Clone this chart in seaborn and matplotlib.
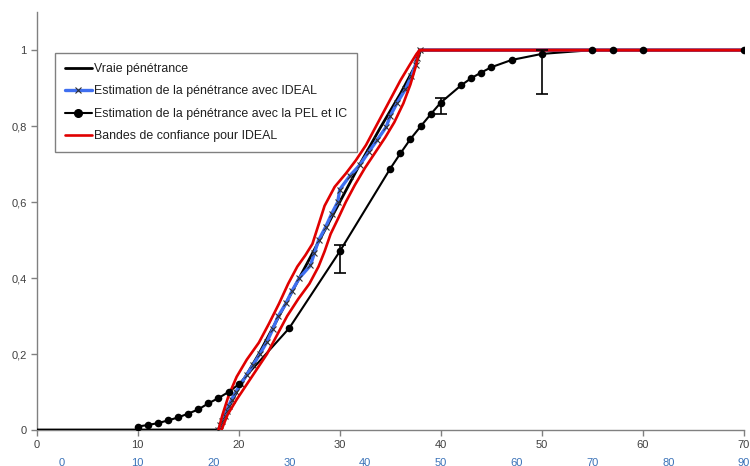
import matplotlib
matplotlib.use("Agg")
import matplotlib.pyplot as plt
from matplotlib.lines import Line2D
from matplotlib.ticker import FuncFormatter
import pandas as pd
import seaborn as sns

# True penetrance curve
true_age = [0, 18, 19, 20, 22, 24, 26, 28, 30, 32, 34, 36, 37.5, 38, 70]
true_pen = [0, 0, 0.06, 0.11, 0.2, 0.3, 0.4, 0.5, 0.6, 0.7, 0.795, 0.885, 0.96, 1, 1]

# IDEAL estimate
ideal_age = [18.0, 18.2, 18.4, 18.6, 18.8, 19.0, 19.3, 19.7, 20.2, 20.8, 21.4,
             22.1, 22.8, 23.4, 23.9, 24.7, 25.3, 26.0, 27.1, 27.5, 27.9, 28.6,
             29.2, 29.8, 30.0, 31.0, 32.0, 32.9, 33.7, 34.6, 35.0, 35.7, 36.5,
             37.1, 37.5, 37.6, 37.9, 70]
ideal_pen = [0.0, 0.012, 0.024, 0.036, 0.05, 0.063, 0.08, 0.1, 0.12, 0.145, 0.17,
             0.2, 0.232, 0.267, 0.299, 0.334, 0.367, 0.4, 0.433, 0.466, 0.499, 0.534,
             0.569, 0.6, 0.633, 0.669, 0.698, 0.733, 0.763, 0.798, 0.827, 0.862, 0.897,
             0.932, 0.962, 0.98, 1.0, 1.0]

# Confidence bands for IDEAL
upper_age = [18.0, 18.4, 19.0, 19.8, 20.8, 22.0, 23.0, 24.0, 24.9, 25.8, 26.6, 27.3,
             27.9, 28.5, 29.5, 30.6, 31.6, 32.6, 33.4, 34.4, 35.2, 36.0, 36.9, 37.6,
             37.9, 70]
upper_pen = [0.0, 0.04, 0.09, 0.14, 0.185, 0.23, 0.28, 0.333, 0.385, 0.43, 0.46, 0.49,
             0.54, 0.59, 0.64, 0.675, 0.71, 0.75, 0.79, 0.84, 0.88, 0.92, 0.96, 0.99,
             1.0, 1.0]
lower_age = [18.3, 18.9, 19.8, 20.8, 21.8, 22.8, 23.8, 24.8, 25.9, 27.0, 27.9, 28.5,
             29.1, 29.9, 30.6, 31.5, 32.5, 33.5, 34.5, 35.4, 36.3, 37.0, 37.5, 37.9, 70]
lower_pen = [0.0, 0.04, 0.08, 0.12, 0.16, 0.2, 0.25, 0.3, 0.345, 0.385, 0.43, 0.47,
             0.516, 0.56, 0.6, 0.645, 0.69, 0.73, 0.77, 0.81, 0.86, 0.91, 0.955, 1.0, 1.0]

# PEL estimate with confidence intervals
pel_age = [10, 11, 12, 13, 14, 15, 16, 17, 18, 19, 20, 25, 30, 35, 36, 37, 38, 39, 40,
           42, 43, 44, 45, 47, 50, 55, 57, 60, 70]
pel_pen = [0.009, 0.013, 0.018, 0.025, 0.033, 0.043, 0.054, 0.07, 0.084, 0.10, 0.12,
           0.268, 0.47, 0.688, 0.728, 0.766, 0.799, 0.831, 0.862, 0.907, 0.926, 0.941,
           0.955, 0.974, 0.99, 1.0, 1.0, 1.0, 1.0]
ci_age = [30, 40, 50]
ci_mid = [0.47, 0.862, 0.99]
ci_low = [0.414, 0.833, 0.884]
ci_high = [0.488, 0.875, 1.0]

legend_labels = ["Vraie pénétrance",
                 "Estimation de la pénétrance avec IDEAL",
                 "Estimation de la pénétrance avec la PEL et IC",
                 "Bandes de confiance pour IDEAL"]

sns.set_theme(style="white")
plt.rcParams["font.family"] = ["Liberation Sans", "DejaVu Sans"]
plt.rcParams["font.size"] = 8

RED = "#e00000"
BLUE = "#3f6ff0"
GREY = "#808080"
TXT = "#404040"

fig = plt.figure(figsize=(7.5, 4.66), dpi=100)
ax = fig.add_axes([0.0487, 0.0773, 0.9433, 0.8967])

true_df = pd.DataFrame({"age": true_age, "pen": true_pen})
ideal_df = pd.DataFrame({"age": ideal_age, "pen": ideal_pen})
up_df = pd.DataFrame({"age": upper_age, "pen": upper_pen})
lo_df = pd.DataFrame({"age": lower_age, "pen": lower_pen})
pel_df = pd.DataFrame({"age": pel_age, "pen": pel_pen})

# PEL line underneath, dots drawn on top of the red bands later
sns.lineplot(data=pel_df, x="age", y="pen", ax=ax, color="black", lw=1.5,
             estimator=None, sort=False, zorder=2)
sns.lineplot(data=true_df, x="age", y="pen", ax=ax, color="black", lw=2.0,
             estimator=None, sort=False, zorder=3)
sns.lineplot(data=ideal_df, x="age", y="pen", ax=ax, color=BLUE, lw=2.4,
             estimator=None, sort=False, zorder=3)
ax.plot(ideal_df["age"].iloc[:-1], ideal_df["pen"].iloc[:-1], ls="none",
        marker="x", ms=4, mew=0.8, color="#303030", zorder=4)
sns.lineplot(data=up_df, x="age", y="pen", ax=ax, color=RED, lw=1.9,
             estimator=None, sort=False, zorder=5)
sns.lineplot(data=lo_df, x="age", y="pen", ax=ax, color=RED, lw=1.9,
             estimator=None, sort=False, zorder=5)
sns.scatterplot(data=pel_df, x="age", y="pen", ax=ax, color="black", s=30,
                edgecolor="black", linewidth=0, zorder=6)
ax.errorbar(ci_age, ci_mid,
            yerr=[[m - l for m, l in zip(ci_mid, ci_low)],
                  [h - m for m, h in zip(ci_mid, ci_high)]],
            fmt="none", ecolor="black", elinewidth=1.2, capsize=4, capthick=1.2,
            zorder=6)

ax.set_xlim(0, 70)
ax.set_ylim(0, 1.1)
ax.set_xlabel("")
ax.set_ylabel("")
ax.set_xticks(range(0, 71, 10))
ax.set_yticks([0, 0.2, 0.4, 0.6, 0.8, 1.0])
ax.yaxis.set_major_formatter(FuncFormatter(
    lambda v, p: "0" if v == 0 else ("1" if v == 1 else f"{v:.1f}".replace(".", ","))))
for side in ("top", "right"):
    ax.spines[side].set_visible(False)
for side in ("left", "bottom"):
    ax.spines[side].set_color(GREY)
    ax.spines[side].set_linewidth(1)
ax.tick_params(axis="both", which="major", direction="out", length=4, width=1,
               color=GREY, labelcolor=TXT, labelsize=8, pad=3, left=True, bottom=True)

# Secondary age scale below the main one
s0 = 2.52
fwd = lambda m: (m - s0) * 90.0 / (70 - s0)
inv = lambda s: s * (70 - s0) / 90.0 + s0
sec = ax.secondary_xaxis(-0.036, functions=(fwd, inv))
sec.set_xticks(range(0, 91, 10))
sec.spines["bottom"].set_visible(False)
sec.tick_params(length=0, labelcolor="#3a72b8", labelsize=8, pad=9)

handles = [
    Line2D([], [], color="black", lw=2.0),
    Line2D([], [], color=BLUE, lw=2.4, marker="x", ms=4, mew=0.8,
           markeredgecolor="#303030"),
    Line2D([], [], color="black", lw=1.5, marker="o", ms=5.5),
    Line2D([], [], color=RED, lw=1.9),
]
leg = ax.legend(handles, legend_labels, loc="upper left",
                bbox_to_anchor=(0.026, 0.902), borderaxespad=0, frameon=True,
                fancybox=False, edgecolor=GREY, framealpha=1, fontsize=8.9,
                handlelength=2.2, handletextpad=0.15, labelspacing=0.85,
                borderpad=0.8)
leg.get_frame().set_linewidth(1)
for t in leg.get_texts():
    t.set_color("#202020")

fig.savefig("out.png", dpi=100)
